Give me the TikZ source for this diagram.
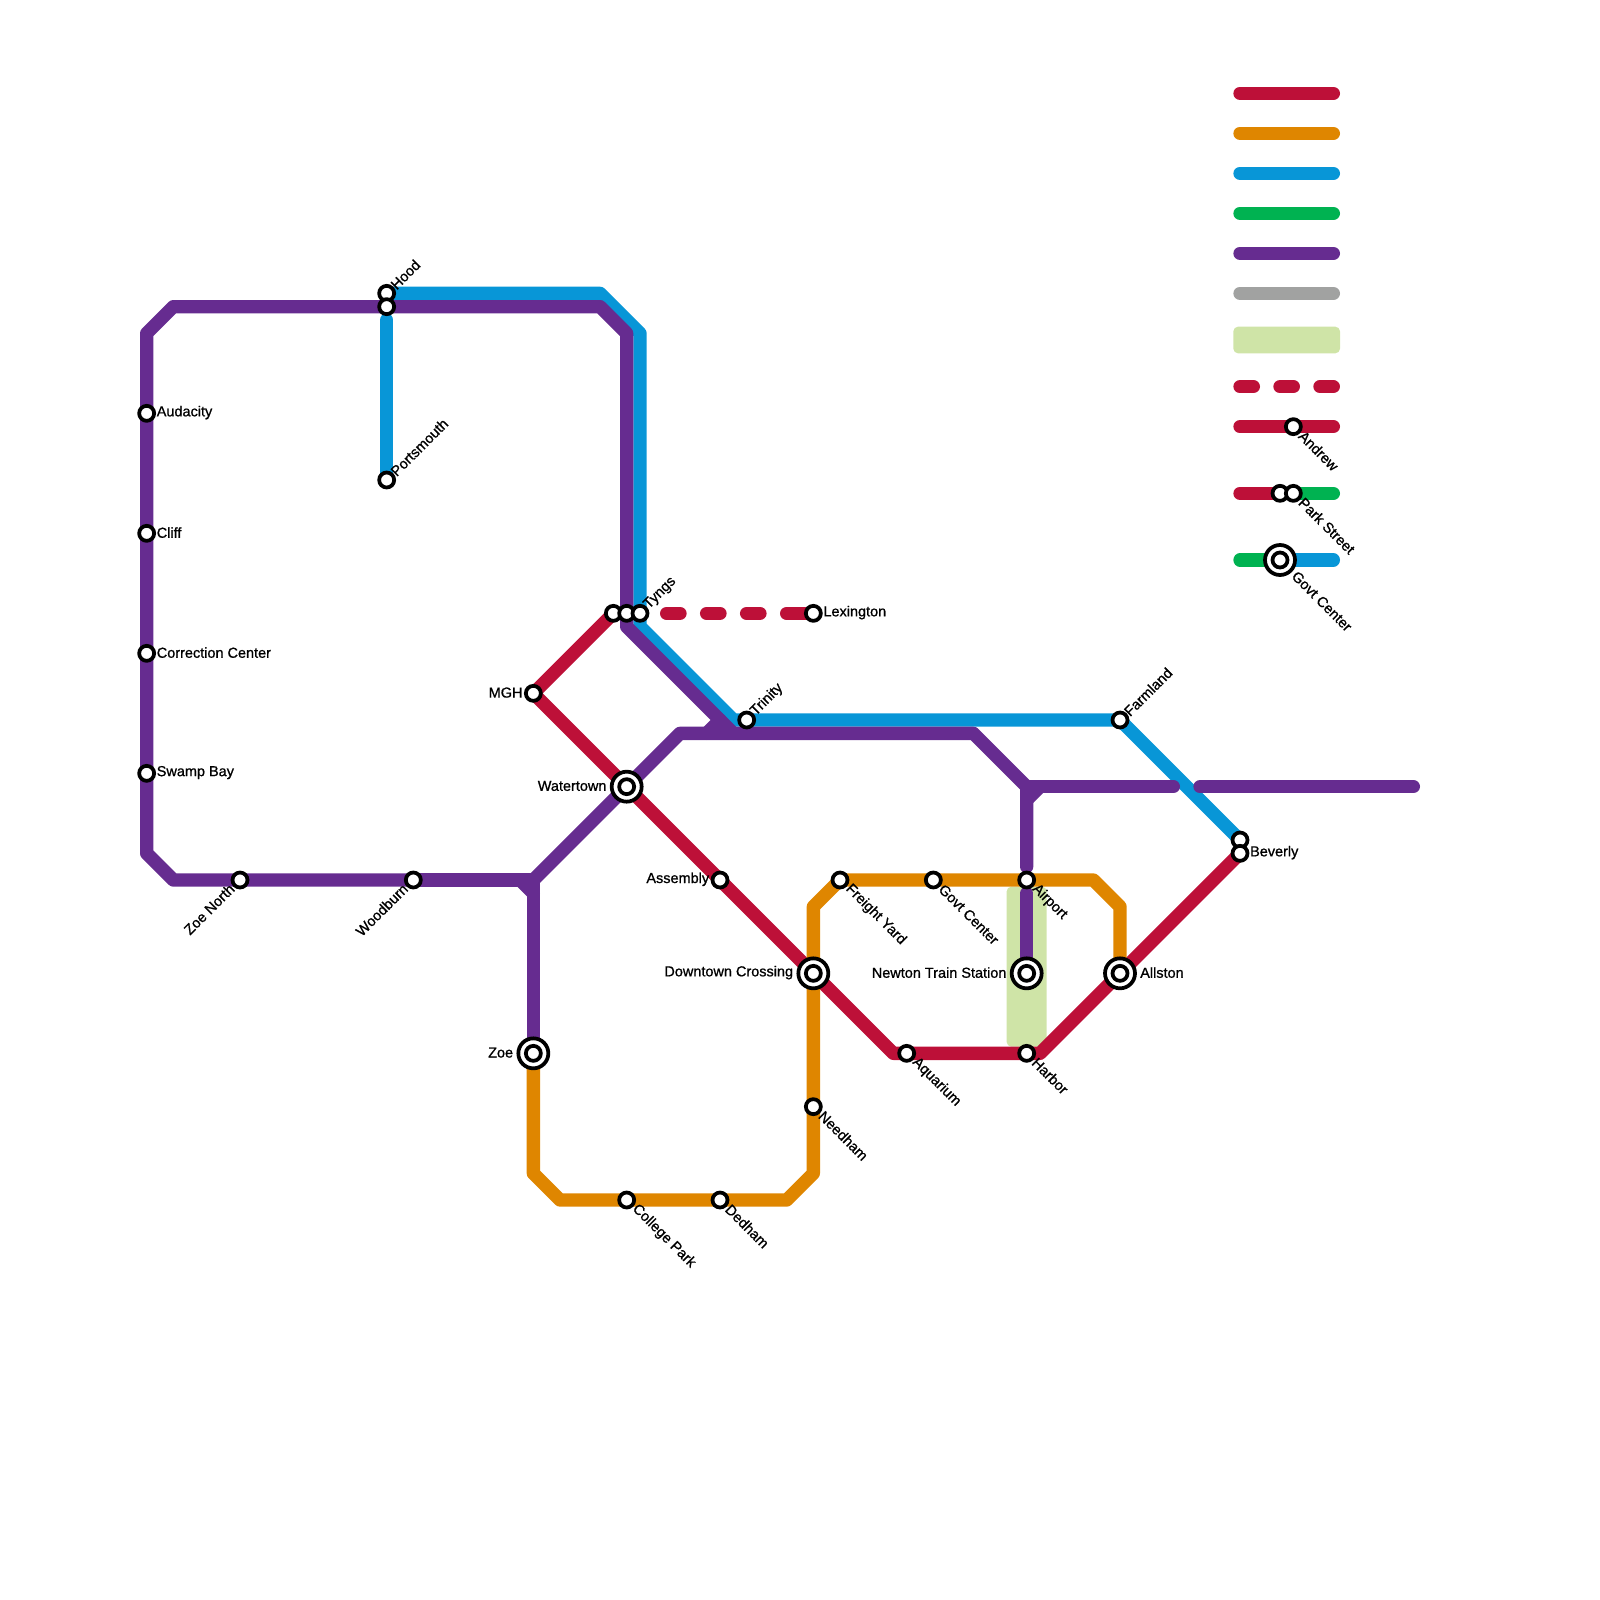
\documentclass[tikz,border=0pt]{standalone}
\usepackage{fontspec}
\setmainfont[FakeBold=0.9]{Liberation Sans}
\usetikzlibrary{backgrounds}
\definecolor{redline}{HTML}{BD1038}
\definecolor{orangeline}{HTML}{DF8600}
\definecolor{blueline}{HTML}{0896D7}
\definecolor{greenline}{HTML}{00B251}
\definecolor{purpleline}{HTML}{662C90}
\definecolor{grayline}{HTML}{A1A2A1}
\definecolor{paleline}{HTML}{CFE4A7}
\tikzset{
    route/.style={line width=7.11pt,line cap=round,line join=round},
    dashroute/.style={route,dash pattern=on 7.11pt off 14.22pt},
    station/.style={circle,draw=black,fill=white,line width=2pt,inner sep=0pt,minimum size=8pt},
    hub/.style={station,minimum size=16pt,label={[station]center:}},
    tag/.style={font=\fontsize{7.72pt}{9pt}\selectfont,inner sep=0.6pt,text=black},
    tagr/.style={label={[tag,xshift=-0.4pt,yshift=0.4pt]right:#1}},
    tagl/.style={label={[tag,yshift=0.4pt]left:#1}},
    hubr/.style={label={[tag,xshift=1pt,yshift=0.4pt]right:#1}},
    hubl/.style={label={[tag,xshift=-1pt,yshift=0.4pt]left:#1}},
    tagup/.style={label={[tag,anchor=west,rotate=45,xshift=-0.9pt]45:#1}},
    tagdn/.style={label={[tag,anchor=west,rotate=-45,xshift=-0.2pt,yshift=0.4pt]-45:#1}},
    tagsw/.style={label={[tag,anchor=east,rotate=45,xshift=0.3pt,yshift=0.6pt]225:#1}},
}
\begin{document}
\begin{tikzpicture}[x=0.25cm,y=-0.25cm]
    \useasboundingbox (0,0) rectangle (120,120);

    % left side
    \node [station,tagr=Audacity] (audacity) at (11,31) {};
    \node [station,tagr=Cliff] (cliff) at (11,40) {};
    \node [station,tagr=Correction Center] (correction) at (11,49) {};
    \node [station,tagr=Swamp Bay] (swamp) at (11,58) {};
    \node [station,tagsw=Zoe North] (zoenorth) at (18,66) {};
    \node [station,tagsw=Woodburn] (woodburn) at (31,66) {};
    \node [station,tagup=Hood] (hood) at (29,22) {};
    \node [station] (hoodlow) at (29,23) {};
    \node [station,tagup=Portsmouth] (portsmouth) at (29,36) {};

    % middle
    \node [station] (tyngsred) at (46,46) {};
    \node [station] (tyngspurple) at (47,46) {};
    \node [station,tagup=Tyngs] (tyngs) at (48,46) {};
    \node [station,tagr=Lexington] (lexington) at (61,46) {};
    \node [station,tagl=MGH] (mgh) at (40,52) {};
    \node [hub,hubl=Watertown] (watertown) at (47,59) {};
    \node [hub,hubl=Zoe] (zoe) at (40,79) {};
    \node [station,tagup=Trinity] (trinity) at (56,54) {};
    \node [station,tagl=Assembly] (assembly) at (54,66) {};
    \node [hub,hubl=Downtown Crossing] (downtown) at (61,73) {};
    \node [station,tagdn=Needham] (needham) at (61,83) {};
    \node [station,tagdn=College Park] (college) at (47,90) {};
    \node [station,tagdn=Dedham] (dedham) at (54,90) {};

    % right side
    \node [station,tagdn=Freight Yard] (freight) at (63,66) {};
    \node [station,tagdn=Govt Center] (govt) at (70,66) {};
    \node [station,tagdn=Airport] (airport) at (77,66) {};
    \node [hub,hubl=Newton Train Station] (newton) at (77,73) {};
    \node [station,tagdn=Aquarium] (aquarium) at (68,79) {};
    \node [station,tagdn=Harbor] (harbor) at (77,79) {};
    \node [hub,hubr=Allston] (allston) at (84,73) {};
    \node [station,tagup=Farmland] (farmland) at (84,54) {};
    \node [station] (beverlyup) at (93,63) {};
    \node [station,tagr=Beverly] (beverly) at (93,64) {};

    % legend stations
    \node [station,tagdn=Andrew] (keyandrew) at (97,32) {};
    \node [station] (keyparkred) at (96,37) {};
    \node [station,tagdn=Park Street] (keypark) at (97,37) {};
    \node [hub] (keygovt) at (96,42) {};
    \node [tag,anchor=west,rotate=-45] (keygovttext) at (97,42.95) {Govt Center};

    \coordinate (keyparkend) at (100,37);
    \coordinate (keygovtstart) at (93,42);
    \coordinate (keygovtend) at (100,42);
    \coordinate (keyandrewstart) at (93,32);
    \coordinate (keyandrewend) at (100,32);
    \coordinate (keyparkstart) at (93,37);
    \coordinate (keydashstart) at (93,29);
    \coordinate (keydashend) at (100,29);
    \coordinate (dashstart) at (50,46);
    \coordinate (dashend) at (57,46);
    \coordinate (dashlast) at (59,46);
    \coordinate (blueupper) at (29,24);
    \coordinate (airportup) at (77,65);
    \coordinate (airportdown) at (77,67);
    \coordinate (gapleft) at (88,59);
    \coordinate (gapright) at (90,59);
    \coordinate (farright) at (106,59);

    \begin{scope}[on background layer]
        \fill [paleline,rounded corners=2.5pt] (75.5,66.5) rectangle (78.5,78.5);
        \fill [paleline,rounded corners=2.5pt] (92.5,24.5) rectangle (100.5,26.5);

        \draw [route,redline] (tyngsred.center) -- (mgh.center) -- (watertown.center)
            -- (assembly.center) -- (downtown.center) -- (67,79) -- (aquarium.center)
            -- (harbor.center) -- (78,79) -- (allston.center) -- (beverly.center);
        \draw [dashroute,redline] (dashstart) -- (dashend);
        \draw [route,redline] (dashlast) -- (lexington.center);

        \draw [route,orangeline] (zoe.center) -- (40,88) -- (42,90) -- (college.center)
            -- (dedham.center) -- (59,90) -- (61,88) -- (needham.center) -- (downtown.center)
            -- (61,68) -- (freight.center) -- (govt.center) -- (airport.center)
            -- (82,66) -- (84,68) -- (allston.center);

        \draw [route,blueline] (hood.center) -- (45,22) -- (48,25) -- (tyngs.center) -- (48,47)
            -- (55,54) -- (trinity.center) -- (farmland.center) -- (beverlyup.center);
        \draw [route,blueline] (blueupper) -- (portsmouth.center);

        \draw [route,purpleline] (woodburn.center) -- (zoenorth.center) -- (13,66) -- (11,64)
            -- (swamp.center) -- (correction.center) -- (cliff.center) -- (audacity.center)
            -- (11,25) -- (13,23) -- (hoodlow.center) -- (45,23) -- (47,25)
            -- (tyngspurple.center) -- (47,47) -- (55,55);
        \draw [route,purpleline] (woodburn.center) -- (40,66) -- (zoe.center);
        \draw [route,purpleline] (40,66) -- (watertown.center) -- (51,55) -- (73,55) -- (77,59)
            -- (airportup);
        \draw [route,purpleline] (airportdown) -- (newton.center);
        \draw [route,purpleline] (77,59) -- (gapleft);
        \draw [route,purpleline] (gapright) -- (farright);
        % stubs at the joins
        \draw [route,purpleline] (39,66) -- (40,67);
        \draw [route,purpleline] (53,55) -- (54,54);
        \draw [route,purpleline] (77,60) -- (78,59);

        % legend
        \foreach \c/\y in {redline/7,orangeline/10,blueline/13,greenline/16,purpleline/19,grayline/22} {
            \coordinate (key\c a) at (93,\y);
            \coordinate (key\c b) at (100,\y);
            \draw [route,\c] (key\c a) -- (key\c b);
        }
        \draw [dashroute,redline] (keydashstart) -- (keydashend);
        \draw [route,redline] (keyandrewstart) -- (keyandrewend);
        \draw [route,redline] (keyparkstart) -- (keyparkred.center);
        \draw [route,greenline] (keypark.center) -- (keyparkend);
        \draw [route,greenline] (keygovtstart) -- (keygovt.center);
        \draw [route,blueline] (keygovt.center) -- (keygovtend);
    \end{scope}
\end{tikzpicture}
\end{document}
